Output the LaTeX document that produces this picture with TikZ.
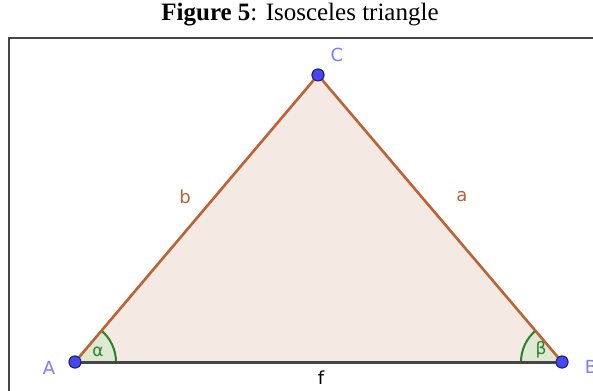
\documentclass[tikz,border=0pt]{standalone}
\usepackage{fontspec}
\setmainfont{Liberation Serif}
\newfontfamily\ggb{DejaVu Sans}
\usetikzlibrary{angles}
\definecolor{triFill}{RGB}{244,233,227}
\definecolor{sideCol}{RGB}{188,98,52}
\definecolor{baseCol}{RGB}{70,70,70}
\definecolor{ptFill}{RGB}{70,70,245}
\definecolor{ptDraw}{RGB}{30,30,90}
\definecolor{ptLabel}{RGB}{125,125,255}
\definecolor{angCol}{RGB}{40,130,40}
\definecolor{angFill}{RGB}{222,232,210}
\definecolor{frameCol}{RGB}{70,70,70}
\tikzset{
  pt/.style={circle, fill=ptFill, draw=ptDraw, line width=0.9pt, minimum size=12pt, inner sep=0pt},
  ptlab/.style={font=\ggb\fontsize{18}{18}\selectfont, text=ptLabel, inner sep=0pt},
  sidelab/.style={font=\ggb\fontsize{18}{18}\selectfont, text=sideCol, inner sep=0pt},
  side/.style={draw=sideCol, line width=2.6pt},
  baseline/.style={draw=baseCol, line width=3pt},
  anglemark/.style={draw=angCol, fill=angFill, line width=2pt, angle radius=41pt},
  anglab/.style={font=\ggb\fontsize{17}{17}\selectfont, text=angCol, inner sep=0pt},
}
\begin{document}
\begin{tikzpicture}[x=1pt,y=-1pt]
\useasboundingbox[fill=white] (0,0) rectangle (593,390);
\node[font=\fontsize{25}{25}\selectfont, inner sep=0pt, anchor=base] (title) at (300,21) {\textbf{Figure 5}: Isosceles triangle};
\draw[frameCol, line width=1.5pt] (9,400) -- (9,38) -- (600,38);
\node[pt] (A) at (75,362) {};
\node[pt] (B) at (562,362) {};
\node[pt] (C) at (318,75) {};
\fill[triFill] (A.center) -- (B.center) -- (C.center) -- cycle;
\pic[anglemark] {angle = B--A--C};
\pic[anglemark] {angle = C--B--A};
\draw[side] (A.center) -- (C.center);
\draw[side] (C.center) -- (B.center);
\draw[baseline] (A.center) -- (B.center);
\node[pt] at (A) {};
\node[pt] at (B) {};
\node[pt] at (C) {};
\node[ptlab] (lA) at (49,368) {A};
\node[ptlab] (lB) at (591,367) {B};
\node[ptlab] (lC) at (337,55) {C};
\node[sidelab] (lb) at (185,197) {b};
\node[sidelab] (la) at (462,197) {a};
\node[font=\ggb\fontsize{18}{18}\selectfont, inner sep=0pt] (lf) at (321,378) {f};
\node[anglab] (alpha) at (98,352) {α};
\node[anglab] (beta) at (541,350) {β};
\end{tikzpicture}
\end{document}
